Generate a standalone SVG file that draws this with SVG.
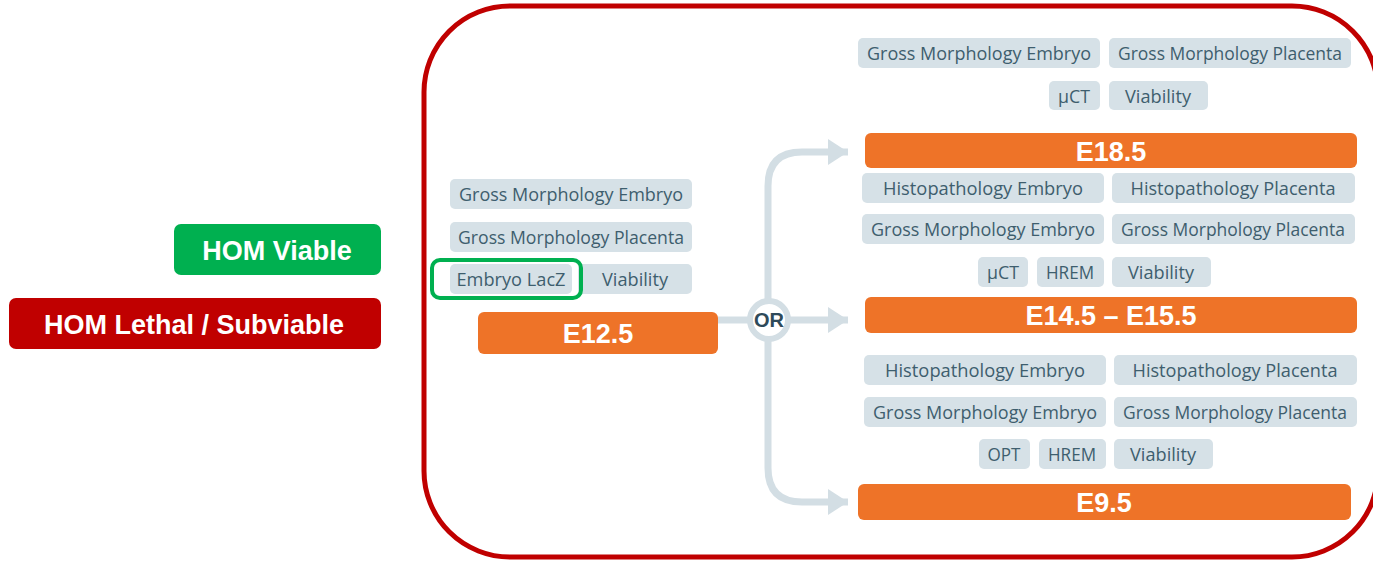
<svg xmlns="http://www.w3.org/2000/svg" width="1373" height="563" viewBox="0 0 1373 563">
  <style>
    .tag { fill: #D6E1E7; }
    .tagt { font-family: "Open Sans", "Noto Sans", sans-serif; font-size: 19px; fill: #3E5E6E; text-anchor: middle; }
    .stage { fill: #EE7328; }
    .staget { font-family: "Liberation Sans", Arial, sans-serif; font-weight: bold; font-size: 27px; fill: #FFFFFF; text-anchor: middle; }
    .lbl { font-family: "Liberation Sans", Arial, sans-serif; font-weight: bold; font-size: 27px; fill: #FFFFFF; text-anchor: middle; }
    .flow { fill: none; stroke: #D3DEE4; stroke-width: 7; }
  </style>
  <defs>
    <marker id="arrow" viewBox="0 0 20 26" refX="20" refY="13" markerWidth="20" markerHeight="26" markerUnits="userSpaceOnUse" orient="auto">
      <path d="M0,0 L20,13 L0,26 Z" fill="#D3DEE4"/>
    </marker>
  </defs>

  <rect width="1373" height="563" fill="#FFFFFF"/>

  <!-- legend -->
  <g id="hom-viable">
    <rect x="174" y="224" width="207" height="51" rx="7" fill="#00B050"/>
    <text class="lbl" x="277" y="260">HOM Viable</text>
  </g>
  <g id="hom-lethal">
    <rect x="9" y="298" width="372" height="51" rx="7" fill="#C00000"/>
    <text class="lbl" x="194" y="334">HOM Lethal / Subviable</text>
  </g>

  <!-- outer frame -->
  <g id="frame">
    <rect x="424" y="6" width="954" height="551" rx="86" ry="86" fill="none" stroke="#C00000" stroke-width="5"/>
  </g>

  <!-- connectors -->
  <g id="connectors">
    <line class="flow" x1="718" y1="320" x2="750" y2="320"/>
    <line class="flow" x1="789" y1="320" x2="848" y2="320" marker-end="url(#arrow)"/>
    <path class="flow" d="M768,301 L768,186 Q768,152 802,152 L848,152" marker-end="url(#arrow)"/>
    <path class="flow" d="M768,339 L768,468 Q768,502 802,502 L848,502" marker-end="url(#arrow)"/>
  </g>

  <g id="or">
    <circle cx="769" cy="320" r="19" fill="#FFFFFF" stroke="#D3DEE4" stroke-width="6"/>
    <text x="769" y="327" font-family="Liberation Sans, Arial, sans-serif" font-weight="bold" font-size="20" fill="#2E4A5A" text-anchor="middle">OR</text>
  </g>

  <!-- E12.5 -->
  <g id="e12-5">
    <rect class="tag" x="450" y="179" width="242" height="30" rx="5"/>
    <text class="tagt" x="571" y="201" textLength="224" lengthAdjust="spacingAndGlyphs">Gross Morphology Embryo</text>
    <rect class="tag" x="450" y="222" width="242" height="30" rx="5"/>
    <text class="tagt" x="571" y="244" textLength="226" lengthAdjust="spacingAndGlyphs">Gross Morphology Placenta</text>
    <rect class="tag" x="450" y="264" width="122" height="30" rx="5"/>
    <text class="tagt" x="511" y="286" textLength="109" lengthAdjust="spacingAndGlyphs">Embryo LacZ</text>
    <rect class="tag" x="578" y="264" width="114" height="30" rx="5"/>
    <text class="tagt" x="635" y="286" textLength="66" lengthAdjust="spacingAndGlyphs">Viability</text>
    <rect x="432" y="260" width="149" height="38" rx="8" fill="none" stroke="#00B050" stroke-width="4"/>
    <rect class="stage" x="478" y="312" width="240" height="42" rx="6"/>
    <text class="staget" x="598" y="343">E12.5</text>
  </g>

  <!-- E18.5 -->
  <g id="e18-5">
    <rect class="tag" x="858" y="38" width="242" height="30" rx="5"/>
    <text class="tagt" x="979" y="60" textLength="224" lengthAdjust="spacingAndGlyphs">Gross Morphology Embryo</text>
    <rect class="tag" x="1109" y="38" width="242" height="30" rx="5"/>
    <text class="tagt" x="1230" y="60" textLength="224" lengthAdjust="spacingAndGlyphs">Gross Morphology Placenta</text>
    <rect class="tag" x="1049" y="81" width="51" height="29" rx="5"/>
    <text class="tagt" x="1074" y="103" textLength="32" lengthAdjust="spacingAndGlyphs">μCT</text>
    <rect class="tag" x="1109" y="81" width="99" height="29" rx="5"/>
    <text class="tagt" x="1158" y="103" textLength="66" lengthAdjust="spacingAndGlyphs">Viability</text>
    <rect class="stage" x="865" y="133" width="492" height="35" rx="6"/>
    <text class="staget" x="1111" y="161">E18.5</text>
  </g>

  <!-- E14.5 - E15.5 -->
  <g id="e14-5">
    <rect class="tag" x="862" y="173" width="242" height="30" rx="5"/>
    <text class="tagt" x="983" y="195" textLength="200" lengthAdjust="spacingAndGlyphs">Histopathology Embryo</text>
    <rect class="tag" x="1112" y="173" width="243" height="30" rx="5"/>
    <text class="tagt" x="1233" y="195" textLength="205" lengthAdjust="spacingAndGlyphs">Histopathology Placenta</text>
    <rect class="tag" x="862" y="214" width="242" height="30" rx="5"/>
    <text class="tagt" x="983" y="236" textLength="224" lengthAdjust="spacingAndGlyphs">Gross Morphology Embryo</text>
    <rect class="tag" x="1112" y="214" width="243" height="30" rx="5"/>
    <text class="tagt" x="1233" y="236" textLength="224" lengthAdjust="spacingAndGlyphs">Gross Morphology Placenta</text>
    <rect class="tag" x="978" y="257" width="50" height="30" rx="5"/>
    <text class="tagt" x="1003" y="279" textLength="32" lengthAdjust="spacingAndGlyphs">μCT</text>
    <rect class="tag" x="1037" y="257" width="67" height="30" rx="5"/>
    <text class="tagt" x="1070" y="279" textLength="48" lengthAdjust="spacingAndGlyphs">HREM</text>
    <rect class="tag" x="1112" y="257" width="99" height="30" rx="5"/>
    <text class="tagt" x="1161" y="279" textLength="66" lengthAdjust="spacingAndGlyphs">Viability</text>
    <rect class="stage" x="865" y="297" width="492" height="36" rx="6"/>
    <text class="staget" x="1111" y="325">E14.5 – E15.5</text>
  </g>

  <!-- E9.5 -->
  <g id="e9-5">
    <rect class="tag" x="864" y="355" width="242" height="30" rx="5"/>
    <text class="tagt" x="985" y="377" textLength="200" lengthAdjust="spacingAndGlyphs">Histopathology Embryo</text>
    <rect class="tag" x="1114" y="355" width="243" height="30" rx="5"/>
    <text class="tagt" x="1235" y="377" textLength="205" lengthAdjust="spacingAndGlyphs">Histopathology Placenta</text>
    <rect class="tag" x="864" y="397" width="242" height="30" rx="5"/>
    <text class="tagt" x="985" y="419" textLength="224" lengthAdjust="spacingAndGlyphs">Gross Morphology Embryo</text>
    <rect class="tag" x="1114" y="397" width="243" height="30" rx="5"/>
    <text class="tagt" x="1235" y="419" textLength="224" lengthAdjust="spacingAndGlyphs">Gross Morphology Placenta</text>
    <rect class="tag" x="979" y="439" width="51" height="30" rx="5"/>
    <text class="tagt" x="1004" y="461" textLength="33" lengthAdjust="spacingAndGlyphs">OPT</text>
    <rect class="tag" x="1039" y="439" width="67" height="30" rx="5"/>
    <text class="tagt" x="1072" y="461" textLength="48" lengthAdjust="spacingAndGlyphs">HREM</text>
    <rect class="tag" x="1114" y="439" width="99" height="30" rx="5"/>
    <text class="tagt" x="1163" y="461" textLength="66" lengthAdjust="spacingAndGlyphs">Viability</text>
    <rect class="stage" x="858" y="484" width="493" height="36" rx="6"/>
    <text class="staget" x="1104" y="512">E9.5</text>
  </g>
</svg>
